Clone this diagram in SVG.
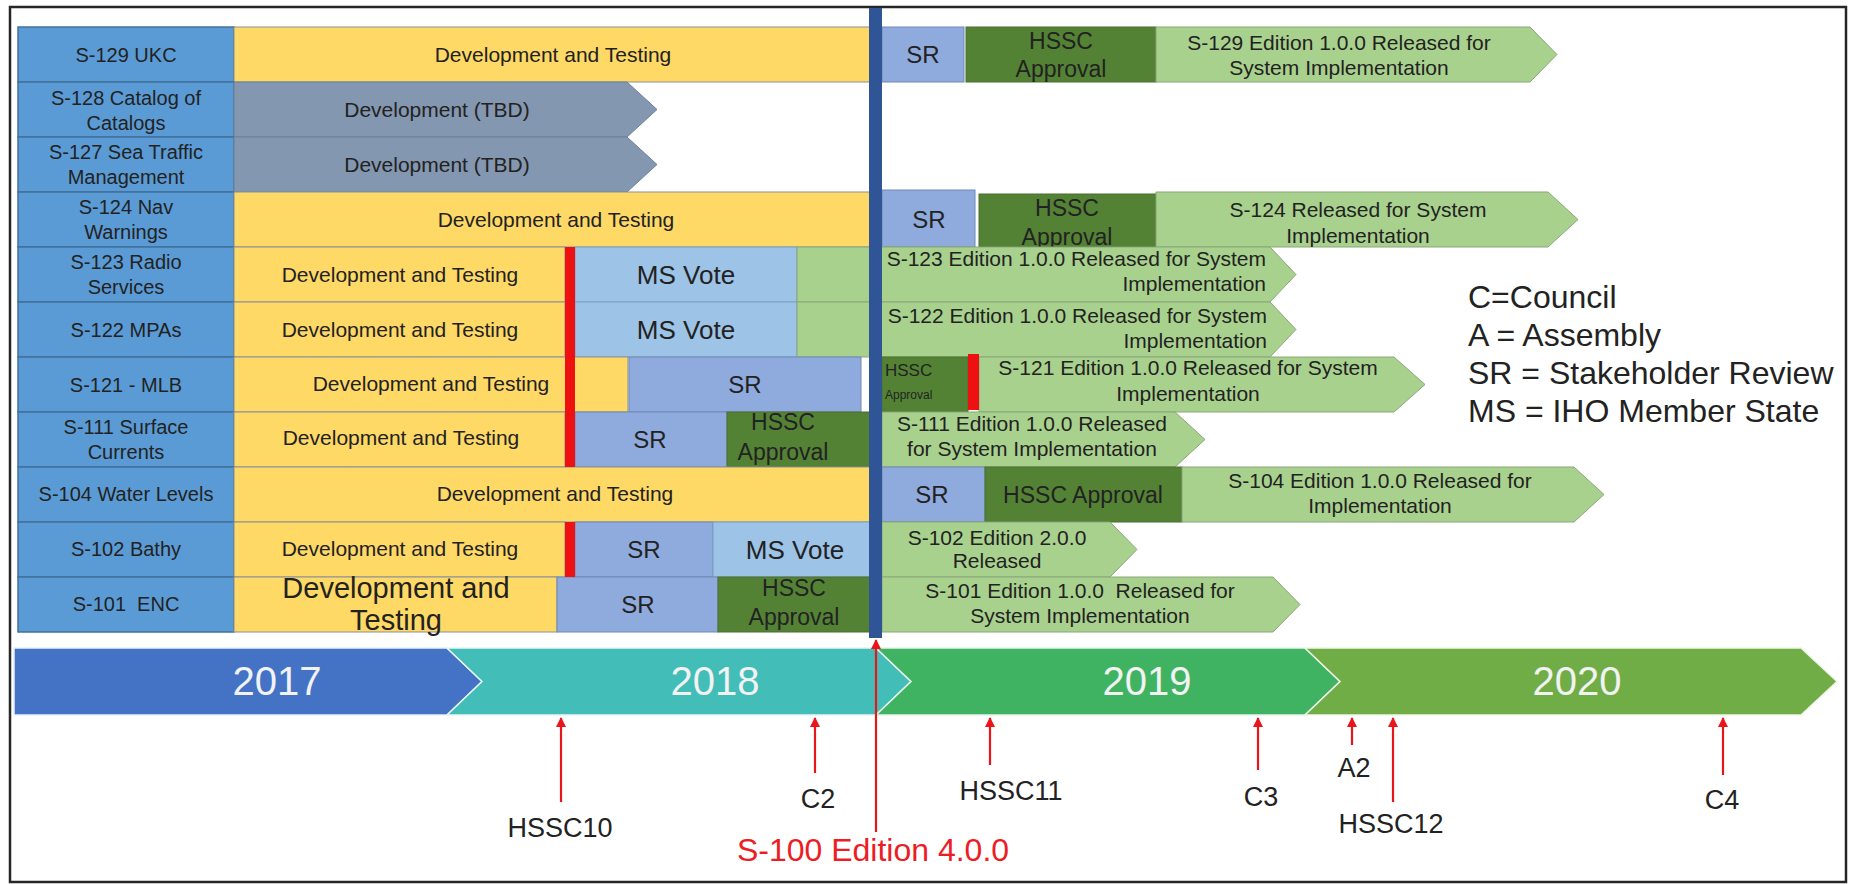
<svg xmlns="http://www.w3.org/2000/svg" width="1852" height="885" viewBox="0 0 1852 885">
<style>
text{font-family:"Liberation Sans",Arial,sans-serif;fill:#222;}
.lbl{fill:#5B9BD5;stroke:#41719C;stroke-width:1.5;}
.yel{fill:#FFD966;stroke:#8a8f99;stroke-width:1;}
.gry{fill:#8497B0;stroke:#6f8199;stroke-width:1;}
.sr{fill:#8FAADC;stroke:#7088b5;stroke-width:1;}
.ms{fill:#9DC3E6;stroke:#7aa0c6;stroke-width:1;}
.hs{fill:#548235;stroke:#4a6f30;stroke-width:1;}
.lg{fill:#A9D18E;stroke:#8aa77a;stroke-width:1;}
.red{fill:#EE1111;}
.t20{font-size:20px;text-anchor:middle;}
.t21{font-size:21px;text-anchor:middle;}
.t21e{font-size:21px;text-anchor:end;}
.t23{font-size:23px;text-anchor:middle;}
.t24{font-size:24px;text-anchor:middle;}
.t26{font-size:26px;text-anchor:middle;}
.yr{font-size:40px;text-anchor:middle;fill:#F2F2F2;}
.mk{font-size:27px;text-anchor:middle;}
.leg{font-size:32px;}
.conn{stroke:#E8161B;stroke-width:2.2;fill:none;}
.pre{white-space:pre;}
</style>
<defs>
<marker id="ah" viewBox="0 0 10 10" refX="9" refY="5" markerWidth="10" markerHeight="10" markerUnits="userSpaceOnUse" orient="auto"><path d="M0,0 L10,5 L0,10 z" fill="#E8161B"/></marker>
</defs>
<rect x="0" y="0" width="1852" height="885" fill="#ffffff"/>
<rect x="10" y="7" width="1836" height="875" fill="none" stroke="#262626" stroke-width="2.5"/>

<g id="row-s129">
<rect class="lbl" x="18" y="27" width="216" height="55"/>
<text class="t20" x="126" y="62">S-129 UKC</text>
<rect class="yel" x="234" y="27" width="636" height="55"/>
<text class="t21" x="553" y="62">Development and Testing</text>
<rect class="sr" x="882" y="27" width="82" height="55"/>
<text class="t24" x="923" y="63">SR</text>
<rect class="hs" x="966" y="27" width="190" height="55"/>
<text class="t23" x="1061" y="49">HSSC</text>
<text class="t23" x="1061" y="77">Approval</text>
<path class="lg" d="M1156,27 H1530 L1557,54.5 L1530,82 H1156 Z"/>
<text class="t21" x="1339" y="49.5">S-129 Edition 1.0.0 Released for</text>
<text class="t21" x="1339" y="74.5">System Implementation</text>
</g>

<g id="row-s128">
<rect class="lbl" x="18" y="82" width="216" height="55"/>
<text class="t20" x="126" y="105">S-128 Catalog of</text>
<text class="t20" x="126" y="130">Catalogs</text>
<path class="gry" d="M234,82 H627 L657,109.5 L627,137 H234 Z"/>
<text class="t21" x="437" y="117">Development (TBD)</text>
</g>

<g id="row-s127">
<rect class="lbl" x="18" y="137" width="216" height="55"/>
<text class="t20" x="126" y="159">S-127 Sea Traffic</text>
<text class="t20" x="126" y="184">Management</text>
<path class="gry" d="M234,137 H627 L657,164.5 L627,192 H234 Z"/>
<text class="t21" x="437" y="172">Development (TBD)</text>
</g>

<g id="row-s124">
<rect class="lbl" x="18" y="192" width="216" height="55"/>
<text class="t20" x="126" y="214">S-124 Nav</text>
<text class="t20" x="126" y="239">Warnings</text>
<rect class="yel" x="234" y="192" width="636" height="55"/>
<text class="t21" x="556" y="227">Development and Testing</text>
<rect class="sr" x="882" y="190" width="93" height="57"/>
<text class="t24" x="929" y="228">SR</text>
<rect class="hs" x="979" y="194" width="177" height="53"/>
<text class="t23" x="1067" y="216">HSSC</text>
<text class="t23" x="1067" y="245">Approval</text>
<path class="lg" d="M1156,192 H1548 L1578,219.5 L1548,247 H1156 Z"/>
<text class="t21" x="1358" y="216.5">S-124 Released for System</text>
<text class="t21" x="1358" y="242.5">Implementation</text>
</g>

<g id="row-s123">
<rect class="lbl" x="18" y="247" width="216" height="55"/>
<text class="t20" x="126" y="269">S-123 Radio</text>
<text class="t20" x="126" y="294">Services</text>
<rect class="yel" x="234" y="247" width="331" height="55"/>
<text class="t21" x="400" y="282">Development and Testing</text>
<rect class="ms" x="575" y="247" width="222" height="55"/>
<text class="t26" x="686" y="284">MS Vote</text>
<path class="lg" d="M797,247 H1270 L1296,274.5 L1270,302 H797 Z"/>
<text class="t21e" x="1266" y="265.5">S-123 Edition 1.0.0 Released for System</text>
<text class="t21e" x="1266" y="290.5">Implementation</text>
</g>

<g id="row-s122">
<rect class="lbl" x="18" y="302" width="216" height="55"/>
<text class="t20" x="126" y="337">S-122 MPAs</text>
<rect class="yel" x="234" y="302" width="331" height="55"/>
<text class="t21" x="400" y="337">Development and Testing</text>
<rect class="ms" x="575" y="302" width="222" height="55"/>
<text class="t26" x="686" y="339">MS Vote</text>
<path class="lg" d="M797,302 H1270 L1296,329.5 L1270,357 H797 Z"/>
<text class="t21e" x="1267" y="322.5">S-122 Edition 1.0.0 Released for System</text>
<text class="t21e" x="1267" y="347.5">Implementation</text>
</g>

<g id="row-s121">
<rect class="lbl" x="18" y="357" width="216" height="55"/>
<text class="t20" x="126" y="392">S-121 - MLB</text>
<rect class="yel" x="234" y="357" width="394" height="55"/>
<text class="t21" x="431" y="391">Development and Testing</text>
<rect class="sr" x="629" y="357" width="232" height="55"/>
<text class="t24" x="745" y="393">SR</text>
<rect class="hs" x="882" y="357" width="86" height="55"/>
<text x="885" y="376" style="font-size:17px">HSSC</text>
<text x="885" y="399" style="font-size:12px">Approval</text>
<path class="lg" d="M979,357 H1394 L1425,384.5 L1394,412 H979 Z"/>
<rect class="red" x="968" y="354" width="11" height="56"/>
<text class="t21" x="1188" y="374.5">S-121 Edition 1.0.0 Released for System</text>
<text class="t21" x="1188" y="400.5">Implementation</text>
</g>

<g id="row-s111">
<rect class="lbl" x="18" y="412" width="216" height="55"/>
<text class="t20" x="126" y="434">S-111 Surface</text>
<text class="t20" x="126" y="459">Currents</text>
<rect class="yel" x="234" y="412" width="331" height="55"/>
<text class="t21" x="401" y="445">Development and Testing</text>
<rect class="sr" x="575" y="412" width="152" height="55"/>
<text class="t24" x="650" y="448">SR</text>
<rect class="hs" x="727" y="412" width="143" height="55"/>
<text class="t23" x="783" y="430">HSSC</text>
<text class="t23" x="783" y="460">Approval</text>
<path class="lg" d="M882,412 H1175 L1205,439.5 L1175,467 H882 Z"/>
<text class="t21" x="1032" y="430.5">S-111 Edition 1.0.0 Released</text>
<text class="t21" x="1032" y="455.5">for System Implementation</text>
</g>

<g id="row-s104">
<rect class="lbl" x="18" y="467" width="216" height="55"/>
<text class="t20" x="126" y="501">S-104 Water Levels</text>
<rect class="yel" x="234" y="467" width="636" height="55"/>
<text class="t21" x="555" y="501">Development and Testing</text>
<rect class="sr" x="882" y="467" width="103" height="55"/>
<text class="t24" x="932" y="503">SR</text>
<rect class="hs" x="985" y="467" width="197" height="55"/>
<text class="t23" x="1083" y="503">HSSC Approval</text>
<path class="lg" d="M1182,467 H1574 L1604,494.5 L1574,522 H1182 Z"/>
<text class="t21" x="1380" y="487.5">S-104 Edition 1.0.0 Released for</text>
<text class="t21" x="1380" y="512.5">Implementation</text>
</g>

<g id="row-s102">
<rect class="lbl" x="18" y="522" width="216" height="55"/>
<text class="t20" x="126" y="556">S-102 Bathy</text>
<rect class="yel" x="234" y="522" width="331" height="55"/>
<text class="t21" x="400" y="556">Development and Testing</text>
<rect class="sr" x="575" y="522" width="138" height="55"/>
<text class="t24" x="644" y="558">SR</text>
<rect class="ms" x="713" y="522" width="157" height="55"/>
<text class="t26" x="795" y="559">MS Vote</text>
<path class="lg" d="M882,522 H1110 L1137,549.5 L1110,577 H882 Z"/>
<text class="t21" x="997" y="544.5">S-102 Edition 2.0.0</text>
<text class="t21" x="997" y="567.5">Released</text>
</g>

<g id="row-s101">
<rect class="lbl" x="18" y="577" width="216" height="55"/>
<text class="t20 pre" x="126" y="611">S-101  ENC</text>
<rect class="yel" x="234" y="577" width="323" height="55"/>
<text x="396" y="598" style="font-size:29px;text-anchor:middle">Development and</text>
<text x="396" y="630" style="font-size:29px;text-anchor:middle">Testing</text>
<rect class="sr" x="557" y="577" width="161" height="55"/>
<text class="t24" x="638" y="613">SR</text>
<rect class="hs" x="718" y="577" width="152" height="55"/>
<text class="t23" x="794" y="596">HSSC</text>
<text class="t23" x="794" y="625">Approval</text>
<path class="lg" d="M882,577 H1273 L1300,604.5 L1273,632 H882 Z"/>
<text class="t21 pre" x="1080" y="597.5">S-101 Edition 1.0.0  Released for</text>
<text class="t21" x="1080" y="622.5">System Implementation</text>
</g>

<g id="milestone-bars">
<rect class="red" x="565" y="247" width="10" height="220"/>
<rect class="red" x="565" y="522" width="10" height="55"/>
<rect id="s100-line" x="869" y="8" width="13" height="630" fill="#2F5597"/>
</g>

<g id="timeline">
<g id="y2017">
<path d="M14,648 H447 L482,681.5 L447,715 H14 Z" fill="#4472C4" stroke="#e9f1f7" stroke-width="1.5"/>
<text class="yr" x="277" y="695">2017</text>
</g>
<g id="y2018">
<path d="M447,648 H876 L911,681.5 L876,715 H447 L482,681.5 Z" fill="#42BDB8" stroke="#e9f5f4" stroke-width="1.5"/>
<text class="yr" x="715" y="695">2018</text>
</g>
<g id="y2019">
<path d="M876,648 H1305 L1340,681.5 L1305,715 H876 L911,681.5 Z" fill="#40B363" stroke="#e6f4ea" stroke-width="1.5"/>
<text class="yr" x="1147" y="695">2019</text>
</g>
<g id="y2020">
<path d="M1305,648 H1801 L1837,681.5 L1801,715 H1305 L1340,681.5 Z" fill="#70AD47" stroke="#eef6e8" stroke-width="1.5"/>
<text class="yr" x="1577" y="695">2020</text>
</g>
</g>

<g id="connectors">
<line class="conn" x1="561" y1="802" x2="561" y2="718" marker-end="url(#ah)"/>
<line class="conn" x1="815" y1="773" x2="815" y2="718" marker-end="url(#ah)"/>
<line class="conn" x1="876" y1="832" x2="876" y2="640" marker-end="url(#ah)"/>
<line class="conn" x1="990" y1="765" x2="990" y2="718" marker-end="url(#ah)"/>
<line class="conn" x1="1258" y1="770" x2="1258" y2="718" marker-end="url(#ah)"/>
<line class="conn" x1="1352" y1="745" x2="1352" y2="718" marker-end="url(#ah)"/>
<line class="conn" x1="1393" y1="802" x2="1393" y2="718" marker-end="url(#ah)"/>
<line class="conn" x1="1723" y1="775" x2="1723" y2="718" marker-end="url(#ah)"/>
</g>

<g id="marker-labels">
<g id="m-hssc10"><text class="mk" x="560" y="837">HSSC10</text></g>
<g id="m-c2"><text class="mk" x="818" y="808">C2</text></g>
<g id="m-s100"><text x="873" y="861" style="font-size:32px;text-anchor:middle;fill:#EE1C25">S-100 Edition 4.0.0</text></g>
<g id="m-hssc11"><text class="mk" x="1011" y="800">HSSC11</text></g>
<g id="m-c3"><text class="mk" x="1261" y="806">C3</text></g>
<g id="m-a2"><text class="mk" x="1354" y="777">A2</text></g>
<g id="m-hssc12"><text class="mk" x="1391" y="833">HSSC12</text></g>
<g id="m-c4"><text class="mk" x="1722" y="809">C4</text></g>
</g>

<g id="legend">
<text class="leg" x="1468" y="308">C=Council</text>
<text class="leg" x="1468" y="346">A = Assembly</text>
<text class="leg" x="1468" y="384">SR = Stakeholder Review</text>
<text class="leg" x="1468" y="422">MS = IHO Member State</text>
</g>
</svg>
